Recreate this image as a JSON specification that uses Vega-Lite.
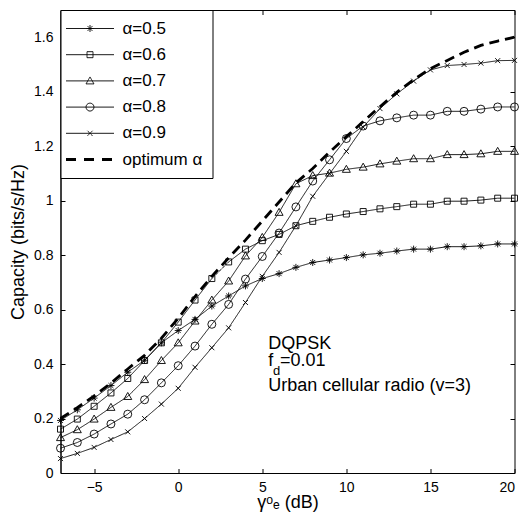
{
"$schema": "https://vega.github.io/schema/vega-lite/v6.json",
"width": 454, "height": 463,
"autosize": {"type": "none"},
"padding": {"left": 60.5, "top": 10, "right": 9.5, "bottom": 41},
"background": "white",
"config": {"font": "Liberation Sans", "view": {"stroke": "black", "strokeWidth": 1},
 "axis": {"grid": false, "domainColor": "black", "tickColor": "black", "labelColor": "black", "titleColor": "black", "labelFontSize": 14, "titleFontSize": 18, "titleFontWeight": "normal", "tickSize": -4.5, "labelPadding": 12, "labelFont": "Liberation Sans", "titleFont": "Liberation Sans"}},
"data": {"values": [
{"s":"α=0.5","x":-7,"y":0.193},{"s":"α=0.5","x":-6,"y":0.232},{"s":"α=0.5","x":-5,"y":0.275},{"s":"α=0.5","x":-4,"y":0.321},{"s":"α=0.5","x":-3,"y":0.370},{"s":"α=0.5","x":-2,"y":0.414},{"s":"α=0.5","x":-1,"y":0.478},{"s":"α=0.5","x":0,"y":0.523},{"s":"α=0.5","x":1,"y":0.564},{"s":"α=0.5","x":2,"y":0.613},{"s":"α=0.5","x":3,"y":0.650},{"s":"α=0.5","x":4,"y":0.687},{"s":"α=0.5","x":5,"y":0.714},{"s":"α=0.5","x":6,"y":0.732},{"s":"α=0.5","x":7,"y":0.755},{"s":"α=0.5","x":8,"y":0.773},{"s":"α=0.5","x":9,"y":0.782},{"s":"α=0.5","x":10,"y":0.791},{"s":"α=0.5","x":11,"y":0.801},{"s":"α=0.5","x":12,"y":0.807},{"s":"α=0.5","x":13,"y":0.815},{"s":"α=0.5","x":14,"y":0.822},{"s":"α=0.5","x":15,"y":0.822},{"s":"α=0.5","x":16,"y":0.831},{"s":"α=0.5","x":17,"y":0.831},{"s":"α=0.5","x":18,"y":0.834},{"s":"α=0.5","x":19,"y":0.841},{"s":"α=0.5","x":20,"y":0.841},
{"s":"α=0.6","x":-7,"y":0.161},{"s":"α=0.6","x":-6,"y":0.198},{"s":"α=0.6","x":-5,"y":0.245},{"s":"α=0.6","x":-4,"y":0.294},{"s":"α=0.6","x":-3,"y":0.347},{"s":"α=0.6","x":-2,"y":0.413},{"s":"α=0.6","x":-1,"y":0.478},{"s":"α=0.6","x":0,"y":0.554},{"s":"α=0.6","x":1,"y":0.635},{"s":"α=0.6","x":2,"y":0.714},{"s":"α=0.6","x":3,"y":0.775},{"s":"α=0.6","x":4,"y":0.822},{"s":"α=0.6","x":5,"y":0.853},{"s":"α=0.6","x":6,"y":0.876},{"s":"α=0.6","x":7,"y":0.908},{"s":"α=0.6","x":8,"y":0.924},{"s":"α=0.6","x":9,"y":0.939},{"s":"α=0.6","x":10,"y":0.951},{"s":"α=0.6","x":11,"y":0.960},{"s":"α=0.6","x":12,"y":0.970},{"s":"α=0.6","x":13,"y":0.978},{"s":"α=0.6","x":14,"y":0.987},{"s":"α=0.6","x":15,"y":0.987},{"s":"α=0.6","x":16,"y":0.998},{"s":"α=0.6","x":17,"y":0.998},{"s":"α=0.6","x":18,"y":1.002},{"s":"α=0.6","x":19,"y":1.009},{"s":"α=0.6","x":20,"y":1.009},
{"s":"α=0.7","x":-7,"y":0.130},{"s":"α=0.7","x":-6,"y":0.159},{"s":"α=0.7","x":-5,"y":0.198},{"s":"α=0.7","x":-4,"y":0.241},{"s":"α=0.7","x":-3,"y":0.281},{"s":"α=0.7","x":-2,"y":0.343},{"s":"α=0.7","x":-1,"y":0.413},{"s":"α=0.7","x":0,"y":0.478},{"s":"α=0.7","x":1,"y":0.558},{"s":"α=0.7","x":2,"y":0.635},{"s":"α=0.7","x":3,"y":0.705},{"s":"α=0.7","x":4,"y":0.797},{"s":"α=0.7","x":5,"y":0.865},{"s":"α=0.7","x":6,"y":0.957},{"s":"α=0.7","x":7,"y":1.062},{"s":"α=0.7","x":8,"y":1.092},{"s":"α=0.7","x":9,"y":1.101},{"s":"α=0.7","x":10,"y":1.115},{"s":"α=0.7","x":11,"y":1.123},{"s":"α=0.7","x":12,"y":1.135},{"s":"α=0.7","x":13,"y":1.145},{"s":"α=0.7","x":14,"y":1.154},{"s":"α=0.7","x":15,"y":1.154},{"s":"α=0.7","x":16,"y":1.169},{"s":"α=0.7","x":17,"y":1.169},{"s":"α=0.7","x":18,"y":1.172},{"s":"α=0.7","x":19,"y":1.181},{"s":"α=0.7","x":20,"y":1.181},
{"s":"α=0.8","x":-7,"y":0.091},{"s":"α=0.8","x":-6,"y":0.112},{"s":"α=0.8","x":-5,"y":0.143},{"s":"α=0.8","x":-4,"y":0.180},{"s":"α=0.8","x":-3,"y":0.216},{"s":"α=0.8","x":-2,"y":0.269},{"s":"α=0.8","x":-1,"y":0.331},{"s":"α=0.8","x":0,"y":0.394},{"s":"α=0.8","x":1,"y":0.466},{"s":"α=0.8","x":2,"y":0.546},{"s":"α=0.8","x":3,"y":0.619},{"s":"α=0.8","x":4,"y":0.712},{"s":"α=0.8","x":5,"y":0.795},{"s":"α=0.8","x":6,"y":0.881},{"s":"α=0.8","x":7,"y":0.977},{"s":"α=0.8","x":8,"y":1.072},{"s":"α=0.8","x":9,"y":1.150},{"s":"α=0.8","x":10,"y":1.228},{"s":"α=0.8","x":11,"y":1.274},{"s":"α=0.8","x":12,"y":1.293},{"s":"α=0.8","x":13,"y":1.304},{"s":"α=0.8","x":14,"y":1.314},{"s":"α=0.8","x":15,"y":1.314},{"s":"α=0.8","x":16,"y":1.328},{"s":"α=0.8","x":17,"y":1.328},{"s":"α=0.8","x":18,"y":1.336},{"s":"α=0.8","x":19,"y":1.344},{"s":"α=0.8","x":20,"y":1.344},
{"s":"α=0.9","x":-7,"y":0.053},{"s":"α=0.9","x":-6,"y":0.072},{"s":"α=0.9","x":-5,"y":0.094},{"s":"α=0.9","x":-4,"y":0.123},{"s":"α=0.9","x":-3,"y":0.151},{"s":"α=0.9","x":-2,"y":0.200},{"s":"α=0.9","x":-1,"y":0.253},{"s":"α=0.9","x":0,"y":0.311},{"s":"α=0.9","x":1,"y":0.388},{"s":"α=0.9","x":2,"y":0.460},{"s":"α=0.9","x":3,"y":0.533},{"s":"α=0.9","x":4,"y":0.626},{"s":"α=0.9","x":5,"y":0.722},{"s":"α=0.9","x":6,"y":0.810},{"s":"α=0.9","x":7,"y":0.908},{"s":"α=0.9","x":8,"y":1.016},{"s":"α=0.9","x":9,"y":1.099},{"s":"α=0.9","x":10,"y":1.181},{"s":"α=0.9","x":11,"y":1.270},{"s":"α=0.9","x":12,"y":1.338},{"s":"α=0.9","x":13,"y":1.392},{"s":"α=0.9","x":14,"y":1.439},{"s":"α=0.9","x":15,"y":1.480},{"s":"α=0.9","x":16,"y":1.496},{"s":"α=0.9","x":17,"y":1.500},{"s":"α=0.9","x":18,"y":1.505},{"s":"α=0.9","x":19,"y":1.514},{"s":"α=0.9","x":20,"y":1.515},
{"s":"optimum α","x":-7,"y":0.200},{"s":"optimum α","x":-6,"y":0.240},{"s":"optimum α","x":-5,"y":0.283},{"s":"optimum α","x":-4,"y":0.330},{"s":"optimum α","x":-3,"y":0.382},{"s":"optimum α","x":-2,"y":0.432},{"s":"optimum α","x":-1,"y":0.495},{"s":"optimum α","x":0,"y":0.568},{"s":"optimum α","x":1,"y":0.648},{"s":"optimum α","x":2,"y":0.722},{"s":"optimum α","x":3,"y":0.790},{"s":"optimum α","x":4,"y":0.855},{"s":"optimum α","x":5,"y":0.925},{"s":"optimum α","x":6,"y":0.995},{"s":"optimum α","x":7,"y":1.065},{"s":"optimum α","x":8,"y":1.118},{"s":"optimum α","x":9,"y":1.178},{"s":"optimum α","x":10,"y":1.235},{"s":"optimum α","x":11,"y":1.290},{"s":"optimum α","x":12,"y":1.345},{"s":"optimum α","x":13,"y":1.398},{"s":"optimum α","x":14,"y":1.444},{"s":"optimum α","x":15,"y":1.485},{"s":"optimum α","x":16,"y":1.515},{"s":"optimum α","x":17,"y":1.545},{"s":"optimum α","x":18,"y":1.570},{"s":"optimum α","x":19,"y":1.586},{"s":"optimum α","x":20,"y":1.600}
]},
"layer": [
{"mark": {"type": "line", "color": "black"},
 "encoding": {
  "x": {"field": "x", "type": "quantitative", "scale": {"domain": [-7, 20], "nice": false, "zero": false},
        "axis": {"values": [-5, 0, 5, 10, 15, 20], "title": "γᵒₑ (dB)", "titlePadding": -1}},
  "y": {"field": "y", "type": "quantitative", "scale": {"domain": [0, 1.7], "nice": false},
        "axis": {"values": [0, 0.2, 0.4, 0.6, 0.8, 1, 1.2, 1.4, 1.6], "format": "~g", "title": "Capacity (bits/s/Hz)", "titlePadding": 6}},
  "strokeDash": {"field": "s", "type": "nominal",
     "scale": {"domain": ["α=0.5", "α=0.6", "α=0.7", "α=0.8", "α=0.9", "optimum α"], "range": [[1, 0], [1, 0], [1, 0], [1, 0], [1, 0], [10, 6]]},
     "legend": {"orient": "none", "legendX": 0, "legendY": 0, "title": null, "padding": 10, "rowPadding": 8.2,
       "symbolSize": 576, "symbolOffset": 11, "labelOffset": 24, "labelFontSize": 17, "labelFont": "Liberation Sans", "labelColor": "black",
       "fillColor": "white", "strokeColor": "black", "symbolStrokeColor": "black", "symbolStrokeWidth": 0.9, "symbolFillColor": "transparent",
       "encode": {"symbols": {"update": {
         "shape": {"signal": "datum.value === 'α=0.5' ? 'M-2,0H2M-0.29,0H0.29M0,-0.29V0.29M-0.21,-0.21L0.21,0.21M-0.21,0.21L0.21,-0.21' : datum.value === 'α=0.6' ? 'M-2,0H2M-0.25,-0.25H0.25V0.25H-0.25Z' : datum.value === 'α=0.7' ? 'M-2,0H2M0,-0.33L0.33,0.25H-0.33Z' : datum.value === 'α=0.8' ? 'M-2,0H2M0.33,0A0.33,0.33,0,1,1,-0.33,0A0.33,0.33,0,1,1,0.33,0' : datum.value === 'α=0.9' ? 'M-2,0H2M-0.21,-0.21L0.21,0.21M-0.21,0.21L0.21,-0.21' : 'M-2,0H-1M-0.5,0H0.5M1,0H2'"},
         "strokeWidth": {"signal": "datum.value === 'optimum α' ? 3 : 0.9"},
         "strokeDash": {"value": [1, 0]},
         "size": {"value": 576},
         "fill": {"value": "transparent"},
         "stroke": {"value": "black"},
         "opacity": {"value": 1}
       }}}}},
  "strokeWidth": {"condition": {"test": "datum.s === 'optimum α'", "value": 2.8}, "value": 0.9}
 }},
{"transform": [{"filter": "datum.s !== 'optimum α'"}],
 "mark": {"type": "point", "filled": false, "color": "black", "size": 64, "strokeWidth": 0.9, "opacity": 1},
 "encoding": {
  "x": {"field": "x", "type": "quantitative", "axis": null},
  "y": {"field": "y", "type": "quantitative", "axis": null},
  "shape": {"field": "s", "type": "nominal",
     "scale": {"domain": ["α=0.5", "α=0.6", "α=0.7", "α=0.8", "α=0.9"],
               "range": ["M-0.875,0H0.875M0,-0.875V0.875M-0.62,-0.62L0.62,0.62M-0.62,0.62L0.62,-0.62", "M-0.75,-0.75H0.75V0.75H-0.75Z", "M0,-1L1,0.75H-1Z", "circle", "M-0.625,-0.625L0.625,0.625M-0.625,0.625L0.625,-0.625"]},
     "legend": null}
 }},
{"mark": {"type": "point", "opacity": 0},
 "encoding": {
  "x": {"field": "x", "type": "quantitative", "axis": {"orient": "top", "values": [-5, 0, 5, 10, 15, 20], "labels": false, "title": null, "domain": false}},
  "y": {"field": "y", "type": "quantitative", "axis": {"orient": "right", "values": [0, 0.2, 0.4, 0.6, 0.8, 1, 1.2, 1.4, 1.6], "labels": false, "title": null, "domain": false}}
 }},
{"data": {"values": [{}]},
 "mark": {"type": "text", "text": "DQPSK", "align": "left", "baseline": "alphabetic", "fontSize": 18, "font": "Liberation Sans", "color": "black"},
 "encoding": {"x": {"datum": 5.36, "type": "quantitative", "axis": null}, "y": {"datum": 0.456, "type": "quantitative", "axis": null}}},
{"data": {"values": [{}]},
 "mark": {"type": "text", "text": "f", "align": "left", "baseline": "alphabetic", "fontSize": 18, "font": "Liberation Sans", "color": "black"},
 "encoding": {"x": {"datum": 5.36, "type": "quantitative", "axis": null}, "y": {"datum": 0.3945, "type": "quantitative", "axis": null}}},
{"data": {"values": [{}]},
 "mark": {"type": "text", "text": "d", "align": "left", "baseline": "alphabetic", "fontSize": 13, "font": "Liberation Sans", "color": "black"},
 "encoding": {"x": {"datum": 5.64, "type": "quantitative", "axis": null}, "y": {"datum": 0.361, "type": "quantitative", "axis": null}}},
{"data": {"values": [{}]},
 "mark": {"type": "text", "text": "=0.01", "align": "left", "baseline": "alphabetic", "fontSize": 18, "font": "Liberation Sans", "color": "black"},
 "encoding": {"x": {"datum": 6.05, "type": "quantitative", "axis": null}, "y": {"datum": 0.3945, "type": "quantitative", "axis": null}}},
{"data": {"values": [{}]},
 "mark": {"type": "text", "text": "Urban cellular radio (v=3)", "align": "left", "baseline": "alphabetic", "fontSize": 18, "font": "Liberation Sans", "color": "black"},
 "encoding": {"x": {"datum": 5.36, "type": "quantitative", "axis": null}, "y": {"datum": 0.30, "type": "quantitative", "axis": null}}}
],
"resolve": {"axis": {"x": "independent", "y": "independent"}}
}
